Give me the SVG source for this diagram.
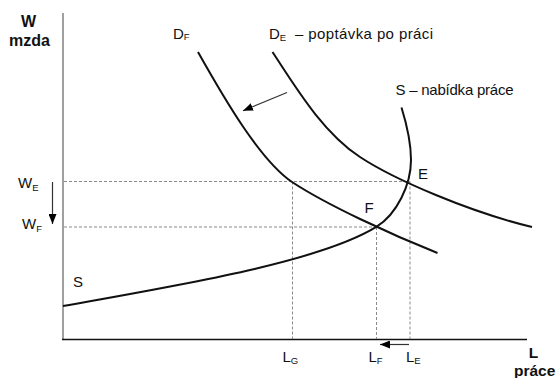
<svg xmlns="http://www.w3.org/2000/svg" width="557" height="378" viewBox="0 0 557 378">
<style>
text{font-family:"Liberation Sans",Arial,sans-serif;fill:#111}
.lbl{font-size:15px}
.sub{font-size:9.5px}
.ax{font-size:16px;font-weight:bold}
.axl{font-size:15.5px;font-weight:bold}
.curve{fill:none;stroke:#111;stroke-width:2}
.guide{fill:none;stroke:#8a8a8a;stroke-width:1;stroke-dasharray:3 2}
.arr{stroke:#333;stroke-width:1.2;marker-end:url(#ah)}
</style>
<defs>
<marker id="ah" viewBox="0 0 10 8" refX="10" refY="4" markerWidth="10" markerHeight="8" markerUnits="userSpaceOnUse" orient="auto">
<path d="M0,0 L10,4 L0,8 z" fill="#000"/>
</marker>
</defs>
<rect width="557" height="378" fill="#fff"/>
<g id="axes">
<line x1="63" y1="13" x2="63" y2="340" stroke="#a0a0a0" stroke-width="2"/>
<line x1="62" y1="339.5" x2="527" y2="339.5" stroke="#111" stroke-width="1.5"/>
<text class="ax" x="28.5" y="26.5" text-anchor="middle">W</text>
<text class="ax" x="29.5" y="45.5" text-anchor="middle">mzda</text>
<text class="axl" x="533.5" y="358" text-anchor="middle">L</text>
<text class="axl" x="514" y="375.5">práce</text>
</g>
<g id="guides">
<line class="guide" x1="64" y1="181.5" x2="410" y2="181.5"/>
<line class="guide" x1="64" y1="227" x2="377" y2="227"/>
<line class="guide" x1="292.5" y1="181.5" x2="292.5" y2="339"/>
<line class="guide" x1="376.5" y1="227" x2="376.5" y2="339"/>
<line class="guide" x1="410" y1="181.5" x2="410" y2="339"/>
</g>
<g id="curves">
<path id="curve-DF" class="curve" d="M198,52 C225,100 260,160 292,182 C327,205 390,234 437.5,253"/>
<path id="curve-DE" class="curve" d="M272.5,52 C295,86 322,132 360,157 C395,180 470,212 532,227"/>
<path id="curve-S" class="curve" d="M63,306 C180,285 320,262 376.7,226.7 C396.7,214.2 411,185 411,160 C411,140 406,122 401.5,107.5"/>
</g>
<g id="connectors">
<line class="arr" x1="287" y1="92.5" x2="243" y2="110.7"/>
<line class="arr" x1="52.5" y1="182" x2="52.5" y2="224"/>
<line class="arr" x1="409" y1="344.5" x2="380" y2="344.5"/>
</g>
<g id="labels">
<text class="lbl" x="173" y="38.5">D<tspan class="sub" dy="1.5">F</tspan></text>
<text class="lbl" x="269" y="39">D<tspan class="sub" dy="1.5">E</tspan></text>
<text class="lbl" x="295" y="39" textLength="138" lengthAdjust="spacing">– poptávka po práci</text>
<text class="lbl" x="395.5" y="95" textLength="118" lengthAdjust="spacing">S – nabídka práce</text>
<text class="lbl" x="18" y="188">W<tspan class="sub" dy="3">E</tspan></text>
<text class="lbl" x="22" y="228.5">W<tspan class="sub" dy="3">F</tspan></text>
<text class="lbl" x="418" y="179">E</text>
<text class="lbl" x="364.5" y="212.5">F</text>
<text class="lbl" x="73" y="286.5">S</text>
<text class="lbl" x="282.5" y="362">L<tspan class="sub" dy="2">G</tspan></text>
<text class="lbl" x="368.5" y="362">L<tspan class="sub" dy="2">F</tspan></text>
<text class="lbl" x="406" y="362">L<tspan class="sub" dy="2">E</tspan></text>
</g>
</svg>
